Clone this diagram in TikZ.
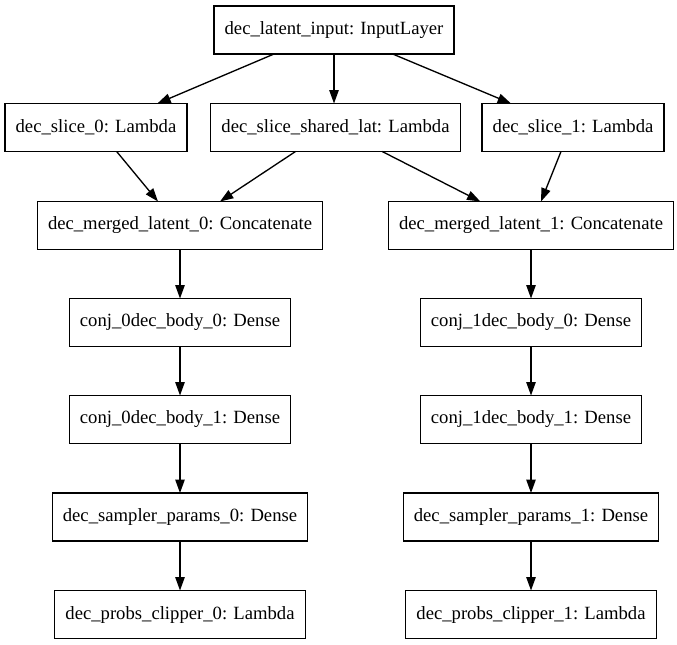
\documentclass[tikz,border=0pt]{standalone}
\usepackage{fontspec}
\setmainfont{Liberation Serif}
\usetikzlibrary{arrows.meta}
\begin{document}
\begin{tikzpicture}[x=0.75pt, y=-0.75pt, font=\fontsize{14pt}{16pt}\selectfont,
    layer/.style={draw, fill=white, line width=1pt, minimum height=36pt, inner xsep=8pt, inner ysep=4pt, outer sep=0pt},
    edge/.style={line width=1pt, -{Triangle[length=10pt, width=7pt]}}, line join=miter]
        \useasboundingbox (0,0) rectangle (677,644);
        \node[layer] (inp) at (334, 30) {dec\_latent\_input: InputLayer};
        \node[layer] (slice0) at (96, 127.5) {dec\_slice\_0: Lambda};
        \node[layer] (shared) at (335.5, 127.5) {dec\_slice\_shared\_lat: Lambda};
        \node[layer] (slice1) at (573, 127.5) {dec\_slice\_1: Lambda};
        \node[layer] (merged0) at (180, 225.5) {dec\_merged\_latent\_0: Concatenate};
        \node[layer] (merged1) at (531, 225.5) {dec\_merged\_latent\_1: Concatenate};
        \node[layer] (body00) at (180, 322.5) {conj\_0dec\_body\_0: Dense};
        \node[layer] (body10) at (531, 322.5) {conj\_1dec\_body\_0: Dense};
        \node[layer] (body01) at (180, 419.5) {conj\_0dec\_body\_1: Dense};
        \node[layer] (body11) at (531, 419.5) {conj\_1dec\_body\_1: Dense};
        \node[layer] (sampler0) at (180, 517) {dec\_sampler\_params\_0: Dense};
        \node[layer] (sampler1) at (531, 517) {dec\_sampler\_params\_1: Dense};
        \node[layer] (clipper0) at (180, 614.5) {dec\_probs\_clipper\_0: Lambda};
        \node[layer] (clipper1) at (531, 614.5) {dec\_probs\_clipper\_1: Lambda};
        % edges of the top part
        \draw[edge] ([xshift=-45pt]inp.south) -- ([xshift=46pt]slice0.north);
        \draw[edge] (inp.south) -- (inp.south |- shared.north);
        \draw[edge] ([xshift=44pt]inp.south) -- ([xshift=-46.5pt]slice1.north);
        \draw[edge] ([xshift=15.5pt]slice0.south) -- ([xshift=-16.5pt]merged0.north);
        \draw[edge] ([xshift=-30pt]shared.south) -- ([xshift=30pt]merged0.north);
        \draw[edge] ([xshift=35pt]shared.south) -- ([xshift=-38pt]merged1.north);
        \draw[edge] ([xshift=-9pt]slice1.south) -- ([xshift=7.5pt]merged1.north);
        % the two columns
        \foreach \col in {0,1} {
            \draw[edge] (merged\col.south) -- (body\col0.north);
            \draw[edge] (body\col0.south) -- (body\col1.north);
            \draw[edge] (body\col1.south) -- (sampler\col.north);
            \draw[edge] (sampler\col.south) -- (clipper\col.north);
        }
    \end{tikzpicture}
\end{document}
